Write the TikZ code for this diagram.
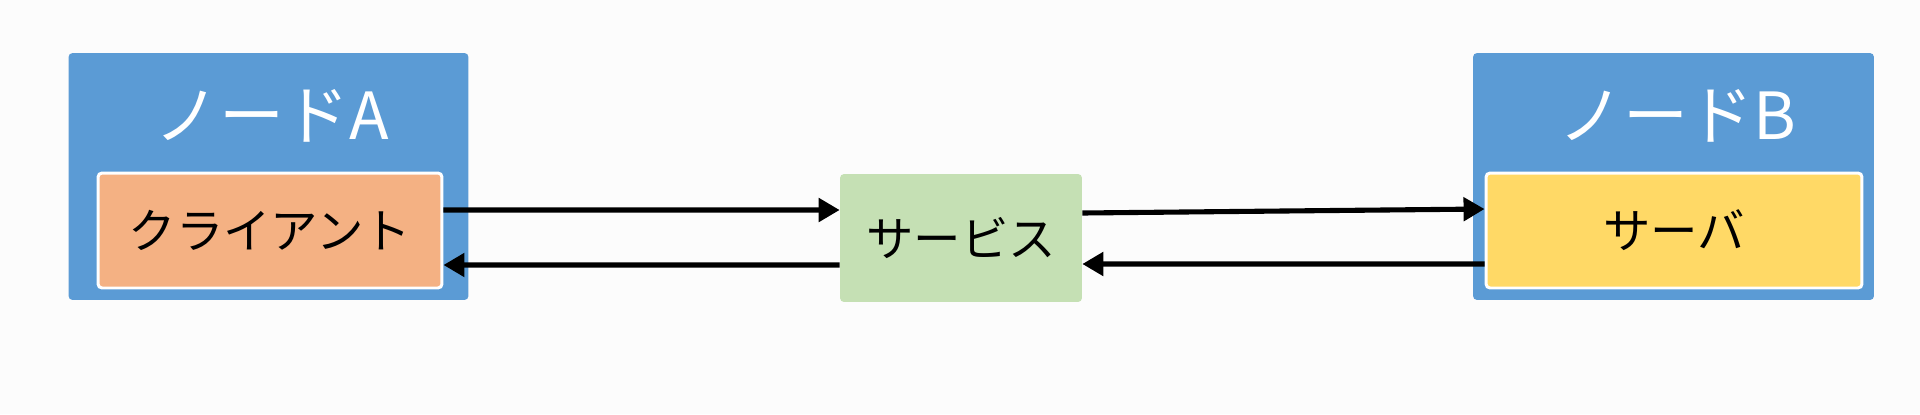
\documentclass[tikz,border=0pt]{standalone}
\usepackage{fontspec}
\setmainfont{Noto Sans CJK JP}
\usetikzlibrary{arrows.meta}
\definecolor{nodeblue}{RGB}{91,155,213}
\definecolor{clientorange}{RGB}{244,177,131}
\definecolor{servicegreen}{RGB}{197,224,180}
\definecolor{serveryellow}{RGB}{255,217,102}
\tikzset{
	hostbox/.style={fill=nodeblue,rounded corners=0.08cm,minimum width=8cm,minimum height=4.94cm,inner sep=0pt},
	hosttitle/.style={text=white,font=\fontsize{37pt}{42pt}\selectfont},
	appbox/.style={draw=white,line width=1.7pt,rounded corners=0.08cm,minimum height=2.3cm,inner sep=0pt,font=\fontsize{27pt}{32pt}\selectfont},
	msg/.style={line width=2.9pt,-{Triangle[length=0.42cm,width=0.46cm]}}
}
\begin{document}
\begin{tikzpicture}[x=0.02cm,y=0.02cm]
		\useasboundingbox [fill={rgb,255:red,252;green,252;blue,252}] (0,0) rectangle (1920,414);
		\node [hostbox] (hostA) at (268.5,237.5) {};
		\node [hostbox,minimum width=8.02cm] (hostB) at (1673.5,237.5) {};
		\node [hosttitle] (titleA) at (272,298) {ノードA};
		\node [hosttitle] (titleB) at (1677,298) {ノードB};
		\node [appbox,fill=clientorange,minimum width=6.88cm] (client) at (270,183.5) {クライアント};
		\node [appbox,fill=serveryellow,minimum width=7.52cm] (server) at (1674,183.5) {サーバ};
		\node [fill=servicegreen,rounded corners=0.08cm,minimum width=4.84cm,minimum height=2.56cm,inner sep=0pt,font=\fontsize{27pt}{32pt}\selectfont] (service) at (961,176) {サービス};
		\draw [msg] ([yshift=0.41cm]client.east) to ([yshift=0.56cm]service.west);
		\draw [msg] ([yshift=-0.54cm]service.west) to ([yshift=-0.69cm]client.east);
		\draw [msg] ([yshift=0.5cm]service.east) to ([yshift=0.43cm]server.west);
		\draw [msg] ([yshift=-0.67cm]server.west) to ([yshift=-0.52cm]service.east);
	\end{tikzpicture}
\end{document}
